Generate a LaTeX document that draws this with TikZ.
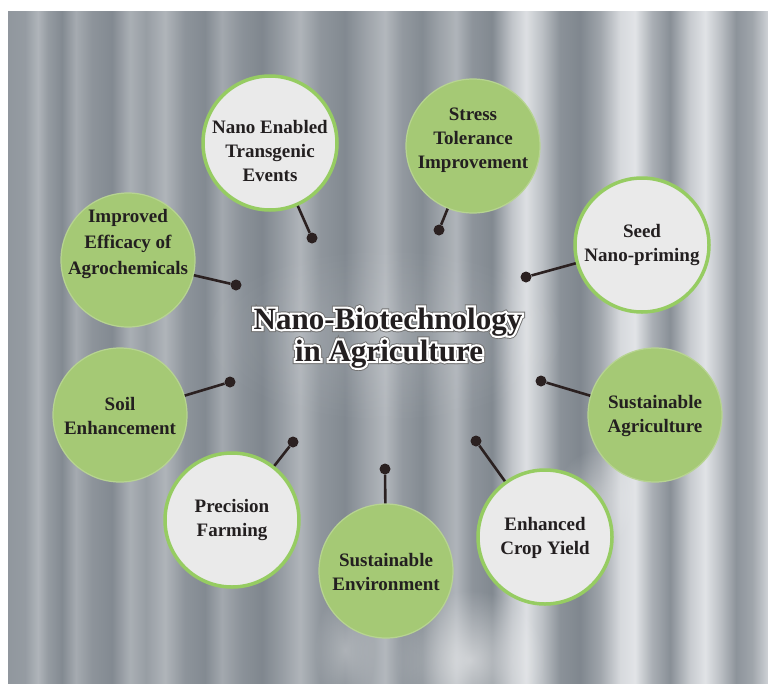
\documentclass[tikz,border=0pt]{standalone}
\usepackage{fontspec}
\setmainfont{Liberation Serif}
% stroked copies of the bold face, used for the title outline
\newfontfamily\titlerim{Liberation Serif Bold}[FakeBold=14]
\newfontfamily\titlehalo{Liberation Serif Bold}[FakeBold=20]
\usetikzlibrary{fadings}

\definecolor{curtainDark}{RGB}{116,124,132}
\definecolor{curtainLight}{RGB}{230,232,235}
\definecolor{leafGreen}{RGB}{165,201,117}
\definecolor{rimGreen}{RGB}{150,204,98}
\definecolor{paleDisc}{RGB}{234,234,234}
\definecolor{inkDark}{RGB}{35,31,32}
\definecolor{pinDark}{RGB}{43,33,33}

% soft-edged spot used for the light patches on the folds
\tikzfading[name=softspot, inner color=transparent!0, outer color=transparent!100]

% vertical curtain folds: light/dark bands across the width
\pgfdeclarehorizontalshading{curtain}{100bp}{
 color(0bp)=(curtainLight!25!curtainDark);
 color(25bp)=(curtainLight!25!curtainDark);
 color(26.12bp)=(curtainLight!29!curtainDark);
 color(26.97bp)=(curtainLight!52!curtainDark);
 color(27.63bp)=(curtainLight!29!curtainDark);
 color(28.55bp)=(curtainLight!13!curtainDark);
 color(29.47bp)=(curtainLight!43!curtainDark);
 color(30.53bp)=(curtainLight!22!curtainDark);
 color(31.84bp)=(curtainLight!13!curtainDark);
 color(33.03bp)=(curtainLight!47!curtainDark);
 color(34.08bp)=(curtainLight!31!curtainDark);
 color(35.33bp)=(curtainLight!52!curtainDark);
 color(36.64bp)=(curtainLight!22!curtainDark);
 color(37.96bp)=(curtainLight!13!curtainDark);
 color(39.08bp)=(curtainLight!41!curtainDark);
 color(40.39bp)=(curtainLight!20!curtainDark);
 color(41.71bp)=(curtainLight!10!curtainDark);
 color(43.03bp)=(curtainLight!31!curtainDark);
 color(44.21bp)=(curtainLight!52!curtainDark);
 color(45.53bp)=(curtainLight!24!curtainDark);
 color(47.17bp)=(curtainLight!12!curtainDark);
 color(48.68bp)=(curtainLight!38!curtainDark);
 color(49.80bp)=(curtainLight!55!curtainDark);
 color(50.92bp)=(curtainLight!27!curtainDark);
 color(52.24bp)=(curtainLight!14!curtainDark);
 color(53.42bp)=(curtainLight!36!curtainDark);
 color(54.47bp)=(curtainLight!52!curtainDark);
 color(55.53bp)=(curtainLight!22!curtainDark);
 color(56.84bp)=(curtainLight!12!curtainDark);
 color(58.16bp)=(curtainLight!68!curtainDark);
 color(59.08bp)=(curtainLight!92!curtainDark);
 color(60.13bp)=(curtainLight!63!curtainDark);
 color(61.32bp)=(curtainLight!20!curtainDark);
 color(62.63bp)=(curtainLight!10!curtainDark);
 color(63.95bp)=(curtainLight!38!curtainDark);
 color(65.26bp)=(curtainLight!86!curtainDark);
 color(66.25bp)=(curtainLight!96!curtainDark);
 color(67.37bp)=(curtainLight!47!curtainDark);
 color(68.55bp)=(curtainLight!18!curtainDark);
 color(69.87bp)=(curtainLight!73!curtainDark);
 color(70.86bp)=(curtainLight!95!curtainDark);
 color(71.84bp)=(curtainLight!63!curtainDark);
 color(72.89bp)=(curtainLight!22!curtainDark);
 color(73.95bp)=(curtainLight!38!curtainDark);
 color(75bp)=(curtainLight!79!curtainDark);
 color(100bp)=(curtainLight!79!curtainDark)}

\begin{document}
\begin{tikzpicture}[x=1pt,y=-1pt,
  disc/.style={circle, minimum size=134, inner sep=0pt},
  greendisc/.style={disc, fill=leafGreen, draw=leafGreen!80!white, line width=1.2},
  palediscs/.style={disc, fill=paleDisc, draw=rimGreen, line width=3.5},
  disctext/.style={align=center, inner sep=0pt,
    font=\fontsize{19}{24}\selectfont\bfseries, text=inkDark},
  knob/.style={circle, fill=pinDark, minimum size=11, inner sep=0pt},
  stem/.style={draw=pinDark, line width=2.6},
  titlesize/.style={anchor=base, inner sep=0pt},
  titletext/.style={titlesize, text=inkDark, font=\fontsize{31}{33}\selectfont\bfseries},
  titlerimtext/.style={titlesize, text=white, font=\fontsize{31}{33}\titlerim},
  titlehalotext/.style={titlesize, text=black!55, font=\fontsize{31}{33}\titlehalo}]

\useasboundingbox (0,0) rectangle (768,683);
\fill[white] (0,0) rectangle (768,683);

% curtain backdrop
\shade[shading=curtain] (8,11) rectangle (768,683);
% soft light patches on the folds
\begin{scope}
  \clip (8,11) rectangle (768,683);
  \fill[white, opacity=0.55, path fading=softspot] (470,660) ellipse (75 and 70);
  \fill[white, opacity=0.35, path fading=softspot] (345,650) ellipse (30 and 60);
  \fill[white, opacity=0.35, path fading=softspot] (595,500) ellipse (40 and 50);
  \fill[white, opacity=0.12, path fading=softspot] (385,335) ellipse (190 and 90);
\end{scope}

% topic discs
\node[palediscs] (c1) at (270,143) {};
\node[greendisc] (c2) at (473,146) {};
\node[palediscs] (c3) at (642,245) {};
\node[greendisc] (c4) at (655,415) {};
\node[palediscs] (c5) at (545,537) {};
\node[greendisc] (c6) at (386,571) {};
\node[palediscs] (c7) at (232,520) {};
\node[greendisc] (c8) at (120,415) {};
\node[greendisc] (c9) at (128,260) {};

% disc captions
\node[disctext] (t1) at (270,151) {Nano Enabled\\Transgenic\\Events};
\node[disctext] (t2) at (473,140) {Stress\\Tolerance\\Improvement};
\node[disctext] (t3) at (642,245) {Seed\\Nano-priming};
\node[disctext] (t4) at (655,416) {Sustainable\\Agriculture};
\node[disctext] (t5) at (545,538) {Enhanced\\Crop Yield};
\node[disctext] (t6) at (386,572) {Sustainable\\Environment};
\node[disctext] (t7) at (232,520) {Precision\\Farming};
\node[disctext] (t8) at (120,416) {Soil\\Enhancement};
\node[disctext, font=\fontsize{19}{26}\selectfont\bfseries] (t9) at (128,244)
  {Improved\\Efficacy of\\Agrochemicals};

% pin heads around the title
\node[knob] (d1) at (312,238) {};
\node[knob] (d2) at (439,230) {};
\node[knob] (d3) at (526,277) {};
\node[knob] (d4) at (541,381) {};
\node[knob] (d5) at (476,441) {};
\node[knob] (d6) at (385,469) {};
\node[knob] (d7) at (293,442) {};
\node[knob] (d8) at (230,382) {};
\node[knob] (d9) at (236,285) {};

% stems from each disc to its pin
\foreach \i in {1,...,9}
  \draw[stem] (c\i) -- (d\i);

% central title: dark halo, white rim, black letters
\node[titlehalotext] (halo1) at (388,329) {Nano-Biotechnology};
\node[titlehalotext] (halo2) at (389,361) {in Agriculture};
\node[titlerimtext] (rim1) at (388,329) {Nano-Biotechnology};
\node[titlerimtext] (rim2) at (389,361) {in Agriculture};
\node[titletext] (title1) at (388,329) {Nano-Biotechnology};
\node[titletext] (title2) at (389,361) {in Agriculture};

\end{tikzpicture}
\end{document}
